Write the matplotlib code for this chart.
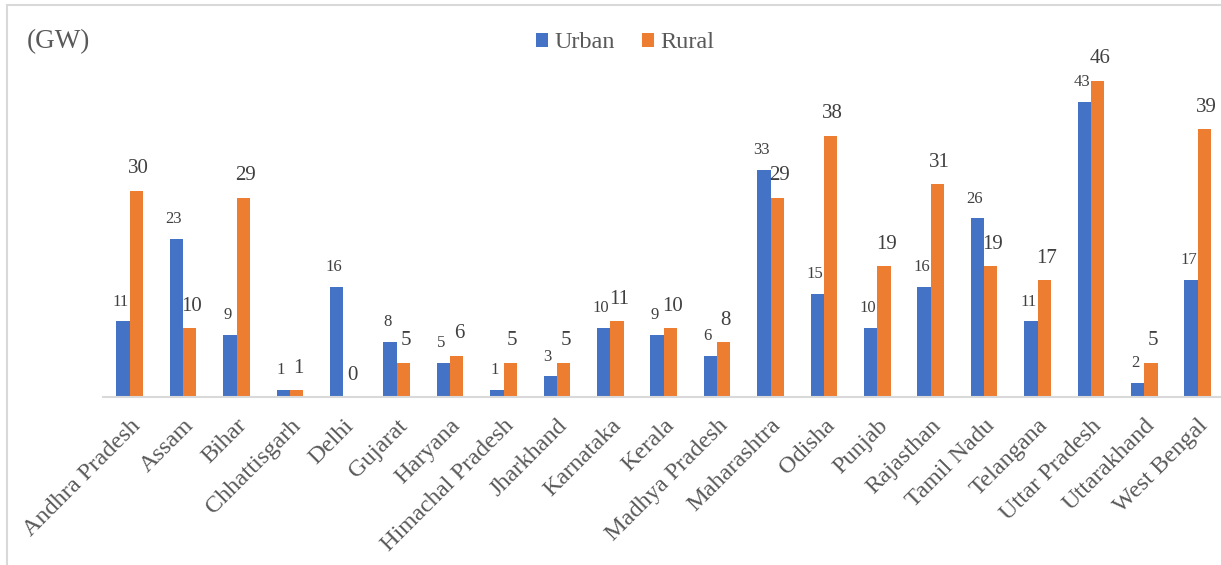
import matplotlib
matplotlib.use("Agg")
import matplotlib.pyplot as plt
import numpy as np
from matplotlib.patches import Rectangle
from matplotlib.transforms import ScaledTranslation

states = ["Andhra Pradesh", "Assam", "Bihar", "Chhattisgarh", "Delhi", "Gujarat",
          "Haryana", "Himachal Pradesh", "Jharkhand", "Karnataka", "Kerala",
          "Madhya Pradesh", "Maharashtra", "Odisha", "Punjab", "Rajasthan",
          "Tamil Nadu", "Telangana", "Uttar Pradesh", "Uttarakhand", "West Bengal"]
urban = [11, 23, 9, 1, 16, 8, 5, 1, 3, 10, 9, 6, 33, 15, 10, 16, 26, 11, 43, 2, 17]
rural = [30, 10, 29, 1, 0, 5, 6, 5, 5, 11, 10, 8, 29, 38, 19, 31, 19, 17, 46, 5, 39]

plt.rcParams['font.family'] = ['Liberation Serif', 'DejaVu Serif']
BLUE = "#4472C4"
ORANGE = "#ED7D31"
GREY = "#595959"
DARK = "#404040"

W, H = 1221, 565
fig = plt.figure(figsize=(W / 100, H / 100), dpi=100)

# light frame around the chart area
fig.add_artist(Rectangle((7 / W, -0.05), 1.1, 1 - 5 / H + 0.05, transform=fig.transFigure,
                         fill=False, edgecolor="#D9D9D9", linewidth=1.5))

ax_left, ax_right = 103 / W, 1.0
base_y = 397
px_per_unit = 6.87
ymax = 50
ax_bottom = 1 - base_y / H
ax_height = ymax * px_per_unit / H
ax = fig.add_axes([ax_left, ax_bottom, ax_right - ax_left, ax_height])

x = np.arange(len(states))
bw = 0.25
ax.bar(x - bw / 2, urban, bw, color=BLUE, label="Urban")
ax.bar(x + bw / 2, rural, bw, color=ORANGE, label="Rural")

for xi, u, r in zip(x, urban, rural):
    ax.annotate(str(u), (xi - bw / 2, u), xytext=(-1.8, 8.5), textcoords="offset points",
                ha="center", va="bottom", fontsize=12, color=DARK)
    ax.annotate(str(r), (xi + bw / 2, r), xytext=(1.5, 9), textcoords="offset points",
                ha="center", va="bottom", fontsize=15, color=DARK)

span = (ax_right - ax_left) * W / 53.4
ax.set_xlim(-0.5, -0.5 + span)
ax.set_ylim(0, ymax)
ax.set_xticks(x)
ax.set_xticklabels(states, rotation=45, ha="right", rotation_mode="anchor",
                   fontsize=17.5, color=GREY)
shift = ScaledTranslation(8 / 100, 0, fig.dpi_scale_trans)
for lab in ax.get_xticklabels():
    lab.set_transform(lab.get_transform() + shift)
ax.tick_params(axis="x", length=0, pad=13)
ax.set_yticks([])
for s in ["top", "right", "left"]:
    ax.spines[s].set_visible(False)
ax.spines["bottom"].set_color("#D9D9D9")
ax.spines["bottom"].set_linewidth(1.5)

fig.text(27 / W, 1 - 42 / H, "(GW)", fontsize=19.5, color=GREY, va="center", ha="left")

leg = fig.legend(loc="center", bbox_to_anchor=(625 / W, 1 - 43 / H), ncol=2, frameon=False,
                 fontsize=17.5, handlelength=0.5, handleheight=0.5, handletextpad=0.25,
                 columnspacing=1.1)
for t in leg.get_texts():
    t.set_color(GREY)

fig.savefig("out.png", dpi=100)
